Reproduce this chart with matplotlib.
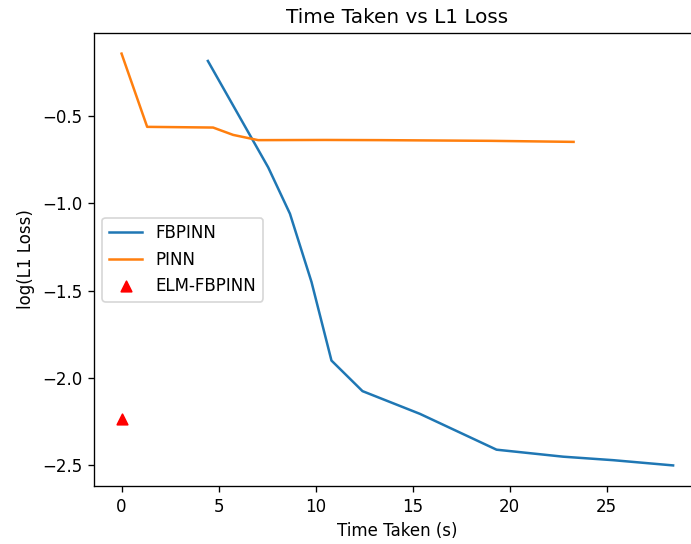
import matplotlib
matplotlib.use("Agg")
import matplotlib.pyplot as plt

# FBPINN: tiempo (s) y log(L1)
fbpinn_time = [4.45, 7.56, 8.68, 9.79, 10.82, 12.42, 15.38, 19.33, 22.76, 25.34, 28.43]
fbpinn_loss = [-0.186, -0.795, -1.06, -1.45, -1.90, -2.075, -2.205, -2.41, -2.45, -2.47, -2.50]

# PINN
pinn_time = [0.0, 1.32, 4.72, 5.75, 7.04, 10.5, 13.3, 19.0, 23.3]
pinn_loss = [-0.144, -0.563, -0.567, -0.609, -0.639, -0.638, -0.639, -0.643, -0.649]

# ELM-FBPINN (un solo punto)
elm_time = [0.02]
elm_loss = [-2.233]

dpi = 120
fig = plt.figure(figsize=(691 / dpi, 544 / dpi), dpi=dpi)
ax = fig.add_axes([0.136, 0.1066, 0.878, 0.8327])

ax.plot(fbpinn_time, fbpinn_loss, label='FBPINN')
ax.plot(pinn_time, pinn_loss, label='PINN')
ax.scatter(elm_time, elm_loss, marker='^', color='red', s=40, label='ELM-FBPINN')

ax.set_title('Time Taken vs L1 Loss')
ax.set_xlabel('Time Taken (s)')
ax.set_ylabel('log(L1 Loss)')
ax.legend(loc='center left')

fig.savefig('out.png', dpi=dpi)
